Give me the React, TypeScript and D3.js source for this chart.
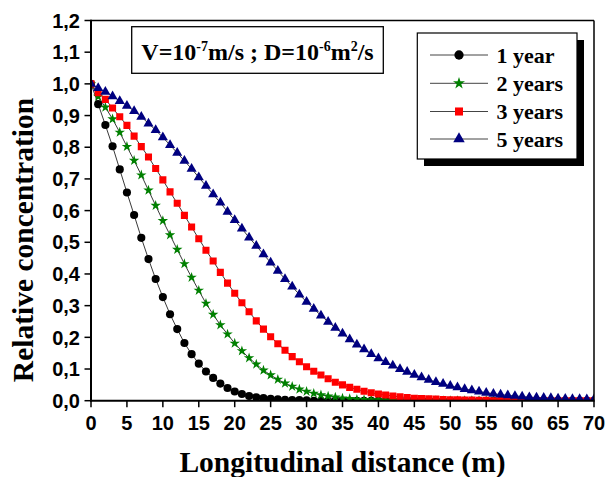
import React from 'react';
import * as d3 from 'd3';

// distances (m), one point per metre
const distances = d3.range(0, 71);

const year1 = [1.0, 0.936, 0.870, 0.803, 0.730, 0.657, 0.586, 0.514, 0.447, 0.384,
  0.327, 0.273, 0.226, 0.182, 0.147, 0.117, 0.092, 0.072, 0.054, 0.040,
  0.029, 0.021, 0.015, 0.011, 0.008, 0.006, 0.004, 0.003, 0.002, 0.002,
  0.001, 0, 0, 0, 0, 0, 0, 0, 0, 0, 0, 0, 0, 0, 0, 0, 0, 0, 0, 0, 0, 0, 0, 0, 0, 0, 0, 0, 0, 0,
  0, 0, 0, 0, 0, 0, 0, 0, 0, 0, 0];

const year2 = [1.0, 0.960, 0.926, 0.889, 0.847, 0.802, 0.758, 0.712, 0.664, 0.616,
  0.568, 0.523, 0.477, 0.432, 0.389, 0.348, 0.307, 0.272, 0.239, 0.210,
  0.181, 0.157, 0.135, 0.115, 0.096, 0.081, 0.067, 0.055, 0.045, 0.036,
  0.029, 0.023, 0.018, 0.014, 0.011, 0.008, 0.006, 0.004, 0.003, 0.002,
  0.002, 0.001, 0.001, 0, 0, 0, 0, 0, 0, 0, 0, 0, 0, 0, 0, 0, 0, 0, 0, 0,
  0, 0, 0, 0, 0, 0, 0, 0, 0, 0, 0];

const year3 = [1.0, 0.972, 0.951, 0.924, 0.896, 0.869, 0.835, 0.802, 0.769, 0.733,
  0.697, 0.659, 0.623, 0.585, 0.548, 0.511, 0.475, 0.441, 0.405, 0.371,
  0.339, 0.309, 0.281, 0.252, 0.226, 0.202, 0.180, 0.159, 0.139, 0.123,
  0.107, 0.093, 0.081, 0.069, 0.058, 0.050, 0.042, 0.036, 0.030, 0.025,
  0.021, 0.018, 0.015, 0.012, 0.010, 0.008, 0.007, 0.006, 0.005, 0.004,
  0.003, 0.003, 0.002, 0.002, 0.001, 0.001, 0, 0, 0, 0,
  0, 0, 0, 0, 0, 0, 0, 0, 0, 0, 0];

const year5 = [1.0, 0.987, 0.975, 0.961, 0.946, 0.931, 0.914, 0.896, 0.875, 0.854,
  0.831, 0.807, 0.782, 0.757, 0.732, 0.705, 0.678, 0.651, 0.625, 0.596,
  0.570, 0.543, 0.515, 0.489, 0.462, 0.436, 0.410, 0.384, 0.360, 0.335,
  0.312, 0.290, 0.269, 0.249, 0.230, 0.212, 0.194, 0.177, 0.162, 0.147,
  0.134, 0.122, 0.111, 0.100, 0.091, 0.082, 0.074, 0.066, 0.059, 0.053,
  0.047, 0.042, 0.037, 0.033, 0.029, 0.025, 0.022, 0.019, 0.017, 0.015,
  0.013, 0.011, 0.010, 0.009, 0.008, 0.007, 0.006, 0.005, 0.005, 0.004, 0.004];

const seriesNames = ['1 year', '2 years', '3 years', '5 years'];
const seriesValues = [year1, year2, year3, year5];
const seriesColors = ['#000000', '#008000', '#ff0000', '#000080'];
const seriesSymbols = [d3.symbolCircle, d3.symbolStar, d3.symbolSquare, d3.symbolTriangle];
const symbolSizes = [52, 34, 50, 44];

const xTicks = d3.range(0, 71, 5);
const yTicks = d3.range(0, 13).map(i => i / 10);

const W = 609, H = 477;
const M = { left: 91, right: 594, top: 20.5, bottom: 400.7 };

export default function App() {
  const x = d3.scaleLinear().domain([0, 70]).range([M.left, M.right]);
  const y = d3.scaleLinear().domain([0, 1.2]).range([M.bottom, M.top]);
  const fmt = (v: number) => v.toFixed(1).replace('.', ',');
  const line = d3.line<number>().x((_, i) => x(distances[i])).y(d => y(d));

  const tickFont = { fontFamily: '"Liberation Sans", Arial, sans-serif', fontWeight: 700, fontSize: 20 };
  const serif = '"Liberation Serif", "Times New Roman", serif';

  const legendRows = [55, 83.3, 111.5, 139];

  return (
    <svg width={W} height={H} style={{ position: 'fixed', left: 0, top: 0, background: '#fff' }}>
      <defs>
        <clipPath id="plotClip">
          <rect x={M.left} y={M.top} width={M.right - M.left} height={M.bottom - M.top} />
        </clipPath>
      </defs>

      {/* series */}
      <g clipPath="url(#plotClip)">
        {seriesValues.map((vals, s) => (
          <path key={'l' + s} d={line(vals) || ''} fill="none" stroke="#222" strokeWidth={0.9} />
        ))}
        {seriesValues.map((vals, s) => (
          <g key={'m' + s} fill={seriesColors[s]}>
            {vals.map((v, i) => (
              <path key={i}
                d={d3.symbol().type(seriesSymbols[s]).size(symbolSizes[s])() || ''}
                transform={`translate(${x(distances[i])},${y(v)})`} />
            ))}
          </g>
        ))}
      </g>

      {/* frame */}
      <line x1={M.left} x2={M.right} y1={M.top} y2={M.top} stroke="#000" strokeWidth={1.5} />
      <line x1={M.right} x2={M.right} y1={M.top} y2={M.bottom} stroke="#000" strokeWidth={1.5} />
      <line x1={M.left} x2={M.left} y1={M.top - 0.7} y2={M.bottom + 1} stroke="#000" strokeWidth={2} />
      <line x1={M.left - 1} x2={M.right + 0.7} y1={M.bottom} y2={M.bottom} stroke="#000" strokeWidth={2} />

      {/* x axis */}
      {xTicks.map(t => (
        <g key={'x' + t}>
          <line x1={x(t)} x2={x(t)} y1={M.bottom} y2={M.bottom + 6.5} stroke="#000" strokeWidth={1.5} />
          <text x={x(t)} y={429.5} textAnchor="middle" style={tickFont}>{t}</text>
        </g>
      ))}

      {/* y axis */}
      {yTicks.map(t => (
        <g key={'y' + t}>
          <line x1={M.left - 6.5} x2={M.left} y1={y(t)} y2={y(t)} stroke="#000" strokeWidth={1.5} />
          <text x={80} y={y(t)} dy="0.36em" textAnchor="end" style={tickFont}>{fmt(t)}</text>
        </g>
      ))}

      {/* axis titles */}
      <text x={(M.left + M.right) / 2} y={471.5} textAnchor="middle"
        style={{ fontFamily: serif, fontWeight: 700, fontSize: 29.5 }}>Longitudinal distance (m)</text>
      <text transform={`translate(33,${240}) rotate(-90)`} textAnchor="middle"
        style={{ fontFamily: serif, fontWeight: 700, fontSize: 29.5 }}>Relative concentration</text>

      {/* parameter box */}
      <rect x={131.7} y={26.7} width={251.6} height={46.6} fill="#fff" stroke="#000" strokeWidth={1.3} />
      <text x={257.5} y={60} textAnchor="middle" style={{ fontFamily: serif, fontWeight: 700, fontSize: 24 }}>
        <tspan>V=10</tspan>
        <tspan dy={-9} fontSize={14}>-7</tspan>
        <tspan dy={9}>m/s ; D=10</tspan>
        <tspan dy={-9} fontSize={14}>-6</tspan>
        <tspan dy={9}>m</tspan>
        <tspan dy={-9} fontSize={14}>2</tspan>
        <tspan dy={9}>/s</tspan>
      </text>

      {/* legend */}
      <rect x={424} y={40} width={160} height={126} fill="#000" />
      <rect x={417.3} y={33} width={159.7} height={126} fill="#fff" stroke="#000" strokeWidth={1.2} />
      {seriesNames.map((name, s) => (
        <g key={'lg' + s}>
          <line x1={430} x2={488} y1={legendRows[s]} y2={legendRows[s]} stroke="#444" strokeWidth={1} />
          <path d={d3.symbol().type(seriesSymbols[s]).size(symbolSizes[s] * 1.3)() || ''}
            transform={`translate(459,${legendRows[s]})`} fill={seriesColors[s]} />
          <text x={496.5} y={legendRows[s] + 7.5} style={{ fontFamily: serif, fontWeight: 700, fontSize: 22 }}>{name}</text>
        </g>
      ))}
    </svg>
  );
}
